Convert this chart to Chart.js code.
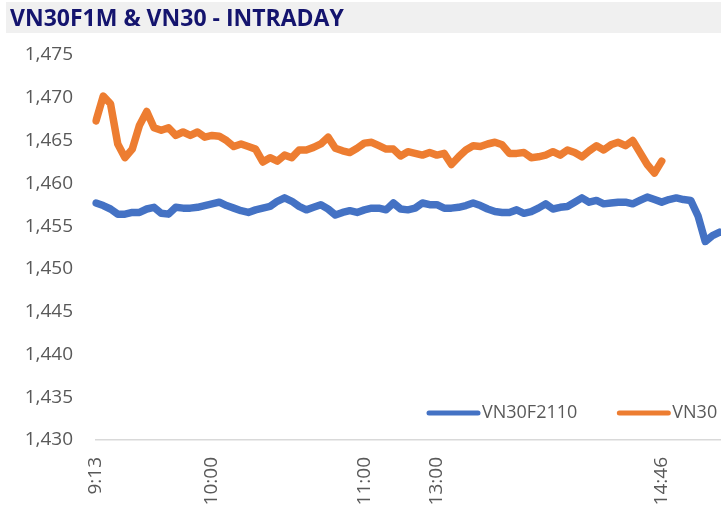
<!DOCTYPE html>
<html>
<head>
<meta charset="utf-8">
<script src="https://cdn.jsdelivr.net/npm/chart.js@4/dist/chart.umd.min.js"></script>
<style>
  html, body { margin: 0; padding: 0; background: #fff; overflow: hidden; width: 721px; height: 510px; }
  .title-band {
    position: absolute; left: 6px; top: 2px; width: 715px; height: 31px;
    background: #f0f0f0; z-index: 2;
    font: bold 23px 'Open Sans', sans-serif; color: #14146e;
    line-height: 31px; padding-left: 4px; box-sizing: border-box; white-space: nowrap;
  }
  .chart-box { position: absolute; left: 0; top: 0; width: 727px; height: 510px; }
</style>
</head>
<body>
<div class="title-band">VN30F1M &amp; VN30 - INTRADAY</div>
<div class="chart-box"><canvas id="intradayChart"></canvas></div>
<script>
/* ── DATA ── */
var times = [
  '9:13','9:16','9:19','9:22','9:25','9:28','9:31','9:34','9:37','9:40','9:43','9:46','9:49','9:52','9:55','9:57',
  '10:00',
  '10:03','10:06','10:09','10:11','10:14','10:17','10:20','10:23','10:26','10:29','10:31','10:34','10:37','10:40',
  '10:43','10:46','10:49','10:51','10:54','10:57',
  '11:00',
  '11:03','11:06','11:09','11:12','11:15','11:18','11:21','11:24','11:27',
  '13:00',
  '13:03','13:06','13:09','13:12','13:15','13:18','13:21','13:24','13:27','13:30','13:33','13:36','13:39','13:42','13:45',
  '13:48','13:51','13:54','13:57','14:00','14:03','14:06','14:09','14:12','14:15','14:18','14:21','14:24','14:27','14:30',
  '14:46',
  '14:47','14:48','14:49','14:50','14:51','14:52','14:53','14:54','14:55'
];

var shownTimes = ['9:13', '10:00', '11:00', '13:00', '14:46'];

var vn30f = [
  1457.7, 1457.4, 1457.0, 1456.4, 1456.4, 1456.6, 1456.6, 1457.0, 1457.2, 1456.5,
  1456.4, 1457.2, 1457.1, 1457.1, 1457.2, 1457.4, 1457.6, 1457.8, 1457.4, 1457.1,
  1456.8, 1456.6, 1456.9, 1457.1, 1457.3, 1457.9, 1458.3, 1457.9, 1457.3, 1456.9,
  1457.2, 1457.5, 1457.0, 1456.3, 1456.6, 1456.8, 1456.6, 1456.9, 1457.1, 1457.1,
  1456.9, 1457.7, 1457.0, 1456.9, 1457.1, 1457.7, 1457.5, 1457.5, 1457.1, 1457.1,
  1457.2, 1457.4, 1457.7, 1457.4, 1457.0, 1456.7, 1456.6, 1456.6, 1456.9, 1456.5,
  1456.7, 1457.1, 1457.6, 1457.0, 1457.2, 1457.3, 1457.8, 1458.3, 1457.8, 1458.0,
  1457.6, 1457.7, 1457.8, 1457.8, 1457.6, 1458.0, 1458.4, 1458.1, 1457.8, 1458.1,
  1458.3, 1458.1, 1458.0, 1456.2, 1453.2, 1453.9, 1454.3, 1454.2
];

var vn30 = [
  1467.3, 1470.2, 1469.3, 1464.6, 1463.0, 1464.0, 1466.8, 1468.4, 1466.5, 1466.2,
  1466.5, 1465.6, 1466.0, 1465.6, 1466.0, 1465.4, 1465.6, 1465.5, 1465.0, 1464.3,
  1464.6, 1464.3, 1464.0, 1462.5, 1463.0, 1462.6, 1463.3, 1463.0, 1463.9, 1463.9,
  1464.2, 1464.6, 1465.4, 1464.1, 1463.8, 1463.6, 1464.1, 1464.7, 1464.8, 1464.4,
  1464.0, 1464.0, 1463.2, 1463.7, 1463.5, 1463.3, 1463.6, 1463.3, 1463.5, 1462.2,
  1463.1, 1463.9, 1464.4, 1464.3, 1464.6, 1464.8, 1464.5, 1463.5, 1463.5, 1463.6,
  1463.0, 1463.1, 1463.3, 1463.7, 1463.3, 1463.9, 1463.6, 1463.1, 1463.8, 1464.4,
  1463.9, 1464.5, 1464.8, 1464.4, 1465.0, 1463.6, 1462.2, 1461.2, 1462.6
];

var seriesNames = ['VN30F2110', 'VN30'];
var seriesColors = ['#4472c4', '#ed7d31'];

var yMin = 1430, yMax = 1475, yStep = 5;

var TEXT_COLOR = '#595959';
var FONT = "'Open Sans', sans-serif";

/* ── LEGEND INSIDE PLOT (bottom right) ── */
var insideLegend = {
  id: 'insideLegend',
  afterDraw: function(chart) {
    var ctx = chart.ctx;
    var x = 427, y = 413;
    ctx.save();
    ctx.font = '18px ' + FONT;
    ctx.textBaseline = 'middle';
    ctx.textAlign = 'left';
    for (var i = 0; i < chart.data.datasets.length; i++) {
      var ds = chart.data.datasets[i];
      ctx.strokeStyle = ds.borderColor;
      ctx.lineWidth = 5;
      ctx.lineCap = 'round';
      ctx.beginPath();
      ctx.moveTo(x + 2, y);
      ctx.lineTo(x + 51, y);
      ctx.stroke();
      ctx.fillStyle = TEXT_COLOR;
      ctx.fillText(ds.label, x + 55, y);
      x += 55 + ctx.measureText(ds.label).width + 40;
    }
    ctx.restore();
  }
};

/* ── CHART ── */
var ctx = document.getElementById('intradayChart').getContext('2d');
var chart = new Chart(ctx, {
  type: 'line',
  data: {
    labels: times,
    datasets: [
      { label: seriesNames[0], data: vn30f, borderColor: seriesColors[0] },
      { label: seriesNames[1], data: vn30,  borderColor: seriesColors[1] }
    ]
  },
  options: {
    responsive: true,
    maintainAspectRatio: false,
    animation: false,
    layout: { padding: { top: 55, right: 0, bottom: 0, left: 0 } },
    elements: {
      line: { borderWidth: 7.5, tension: 0, borderJoinStyle: 'round', borderCapStyle: 'round', fill: false },
      point: { radius: 0, hoverRadius: 0 }
    },
    plugins: {
      legend: { display: false },
      title: { display: false },
      tooltip: { enabled: false }
    },
    scales: {
      x: {
        type: 'category',
        offset: false,
        grid: { display: false, drawTicks: false },
        border: { display: true, color: '#d9d9d9', width: 1.5 },
        ticks: {
          autoSkip: false,
          minRotation: 90,
          maxRotation: 90,
          padding: 17,
          color: TEXT_COLOR,
          font: { family: FONT, size: 19 },
          callback: function(val, i) {
            var t = times[i];
            return shownTimes.indexOf(t) >= 0 ? t : null;
          }
        },
        afterFit: function(s) { s.height = 70; }
      },
      y: {
        min: yMin,
        max: yMax,
        grid: { display: false, drawTicks: false },
        border: { display: false },
        ticks: {
          stepSize: yStep,
          padding: 23,
          color: TEXT_COLOR,
          font: { family: FONT, size: 19 },
          callback: function(v) { return v.toLocaleString('en-US'); }
        },
        afterFit: function(s) { s.width = 96; }
      }
    }
  },
  plugins: [insideLegend]
});
</script>
</body>
</html>
